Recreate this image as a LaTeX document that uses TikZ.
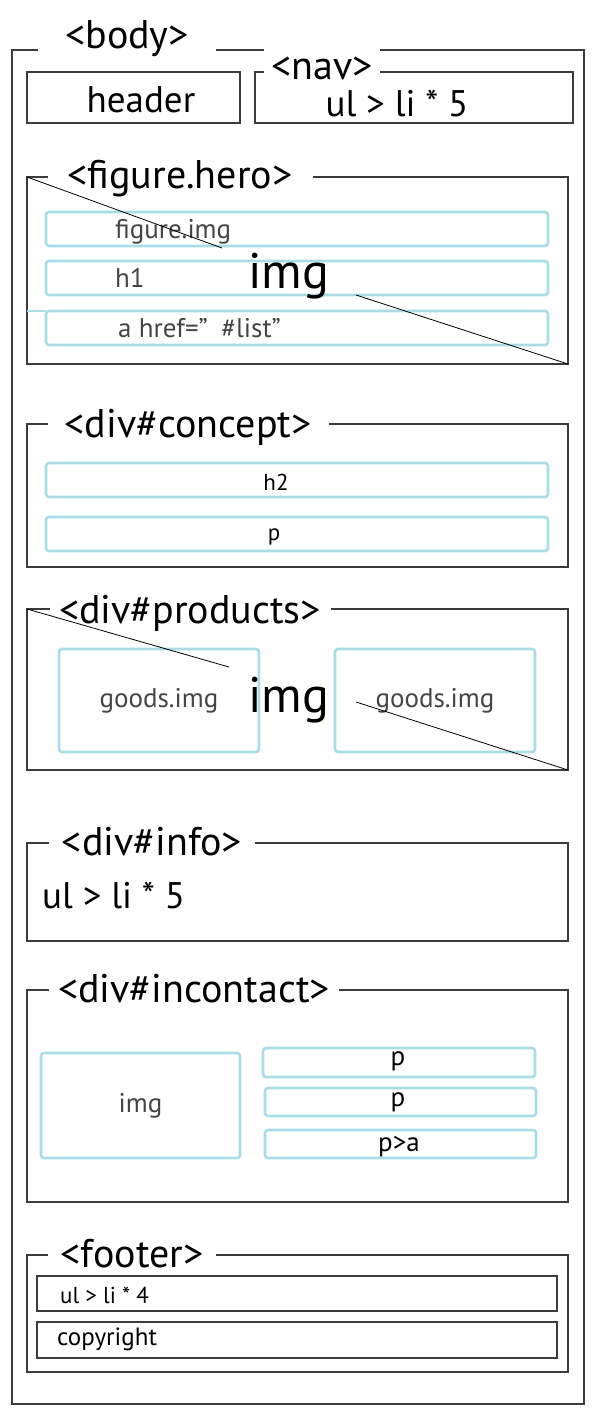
\documentclass[tikz,border=0pt]{standalone}
\usepackage{fontspec}
\setmainfont{PT Sans}
\usetikzlibrary{positioning}
\usetikzlibrary{calc}
\usepackage{xcolor}

\definecolor{frameline}{HTML}{3C3C3C}
\definecolor{wireblue}{HTML}{A8DCE6}
\definecolor{softtext}{HTML}{454545}

\tikzset{
  frame/.style={draw=frameline, line width=1.2pt, anchor=north west, inner sep=0pt, outer sep=0pt},
  wire/.style={draw=wireblue, line width=2.6pt, rounded corners=3pt, anchor=north west, inner sep=0pt, outer sep=0pt},
  tag/.style={fill=white, inner sep=0pt, text height=30pt, text depth=9pt, font=\fontsize{40}{44}\selectfont},
  bigtxt/.style={inner sep=0pt, font=\fontsize{37}{42}\selectfont},
  imgtxt/.style={inner sep=0pt, font=\fontsize{50}{56}\selectfont},
  smalltxt/.style={inner sep=0pt, text=softtext, font=\fontsize{27}{31}\selectfont},
  darktxt/.style={inner sep=0pt, font=\fontsize{23}{27}\selectfont}
}

\begin{document}
\begin{tikzpicture}[x=1pt,y=-1pt]
\useasboundingbox (0,0) rectangle (595,1417);

%%%%%% body and top bar %%%
\begin{scope}
\node[frame, minimum width=572pt, minimum height=1354pt] (body) at (12,50) {};
\node[frame, minimum width=213pt, minimum height=51pt] (header) at (27,72) {};
\node[frame, minimum width=318pt, minimum height=51pt] (nav) at (255,72) {};

\node[tag, minimum width=178pt] (bodytag) at (127,37.5) {<body>};
\node[tag, minimum width=116pt, minimum height=46pt] (navtag) at (322,68.5) {<nav>};

\node[bigtxt, anchor=base] (headertxt) at (141,112) {header};
\node[bigtxt, anchor=base] (navtxt) at (397,116) {ul > li * 5};
\end{scope}

%%%%%%%%%% figure.hero %%%%%%%%
{
\node[frame, minimum width=541pt, minimum height=187pt] (hero) at (27,177) {};
\node[tag, minimum width=265pt] (herotag) at (180,177.5) {<figure.hero>};

\node[wire, minimum width=502pt, minimum height=34pt] (figimg) at (46,212) {};
\node[wire, minimum width=502pt, minimum height=34pt] (heading) at (46,261) {};
\node[wire, minimum width=502pt, minimum height=34pt] (link) at (46,311) {};
\draw[wireblue, line width=2.6pt] (hero.west |- link.north west) -- (link.north west);

\node[smalltxt, anchor=base west] (figimgtxt) at (115,238) {figure.img};
\node[smalltxt, anchor=base west] (headingtxt) at (115,287) {h1};
\node[smalltxt, anchor=base west] (linktxt) at (118,337) {a href=”\enspace\#list”};

\node[imgtxt, anchor=base] (heroimg) at (289,288) {img};
\coordinate (heroA) at (222,248);
\coordinate (heroB) at (356,295);
\draw[black, line width=0.8pt] (hero.north west) -- (heroA);
\draw[black, line width=0.8pt] (heroB) -- (hero.south east);
}

%%%%%%%%%% div#concept %%%%%%%%
{
\node[frame, minimum width=541pt, minimum height=143pt] (concept) at (27,424) {};
\node[tag, minimum width=281pt] (concepttag) at (188,426.5) {<div\#concept>};

\node[wire, minimum width=502pt, minimum height=34pt] (conhead) at (46,463) {};
\node[wire, minimum width=502pt, minimum height=34pt] (conpara) at (46,517) {};
\node[darktxt, anchor=base] (conheadtxt) at (276,490) {h2};
\node[darktxt, anchor=base] (conparatxt) at (274,540) {p};
}

%%%%%%%%%% div#products %%%%%%%%
{
\node[frame, minimum width=541pt, minimum height=161pt] (products) at (27,609) {};
\node[tag, minimum width=281pt] (productstag) at (190,612.5) {<div\#products>};

\node[wire, minimum width=200pt, minimum height=103pt] (goodsL) at (59,649) {};
\node[wire, minimum width=200pt, minimum height=103pt] (goodsR) at (335,649) {};
\node[smalltxt] (goodsLtxt) at (goodsL.center) {goods.img};
\node[smalltxt] (goodsRtxt) at (goodsR.center) {goods.img};

\node[imgtxt, anchor=base] (prodimg) at (289,712) {img};
\coordinate (prodA) at (229,667);
\coordinate (prodB) at (356,702);
\draw[black, line width=0.8pt] (products.north west) -- (prodA);
\draw[black, line width=0.8pt] (prodB) -- (products.south east);
}

%%%%%%%%%% div#info %%%%%%%%
{
\node[frame, minimum width=541pt, minimum height=98pt] (info) at (27,843) {};
\node[tag, minimum width=206pt] (infotag) at (152,844.5) {<div\#info>};
\node[bigtxt, anchor=base west] (infotxt) at (42,908) {ul > li * 5};
}

%%%%%%%%%% div#incontact %%%%%%%%
{
\node[frame, minimum width=541pt, minimum height=212pt] (incontact) at (27,990) {};
\node[tag, minimum width=290pt] (incontacttag) at (194,991.5) {<div\#incontact>};

\node[wire, minimum width=199pt, minimum height=105pt] (contimg) at (41,1053) {};
\node[wire, minimum width=272pt, minimum height=29pt] (contparaA) at (263,1048) {};
\node[wire, minimum width=271pt, minimum height=28pt] (contparaB) at (265,1088) {};
\node[wire, minimum width=271pt, minimum height=28pt] (contlink) at (265,1130) {};

\node[smalltxt] (contimgtxt) at (contimg.center) {img};
\node[darktxt, font=\fontsize{27}{31}\selectfont, anchor=base] (contparaAtxt) at (398,1065) {p};
\node[darktxt, font=\fontsize{27}{31}\selectfont, anchor=base] (contparaBtxt) at (398,1106) {p};
\node[darktxt, font=\fontsize{27}{31}\selectfont, anchor=base] (contlinktxt) at (399,1151) {p>a};
}

%%%%%%%%%% footer %%%%%%%%
{
\node[frame, minimum width=541pt, minimum height=117pt] (footer) at (27,1255) {};
\node[tag, minimum width=168pt] (footertag) at (132,1256.5) {<footer>};

\node[frame, minimum width=520pt, minimum height=35pt] (footlist) at (37,1276) {};
\node[frame, minimum width=520pt, minimum height=36pt] (footcopy) at (37,1322) {};
\node[darktxt, anchor=base west] (footlisttxt) at (60,1303) {ul > li * 4};
\node[darktxt, font=\fontsize{25}{29}\selectfont, anchor=base west] (footcopytxt) at (57,1345) {copyright};
}

\end{tikzpicture}
\end{document}
